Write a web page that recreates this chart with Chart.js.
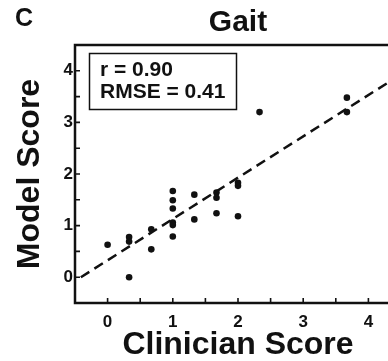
<!DOCTYPE html>
<html>
<head>
<meta charset="utf-8">
<script src="https://cdn.jsdelivr.net/npm/chart.js@4.4.1/dist/chart.umd.min.js"></script>
<style>
	html, body { margin: 0; padding: 0; background: #fff; overflow: hidden; }
	#wrap { position: relative; width: 410px; height: 361px; }
</style>
</head>
<body>
<div id="wrap"><canvas id="chart" width="410" height="361"></canvas></div>
<script>
// --- Data ---
const clinicianScore = [0, 0.33, 0.33, 0.33, 0.67, 0.67, 1, 1, 1, 1, 1, 1, 1.33, 1.33, 1.67, 1.67, 1.67, 2, 2, 2, 2.33, 3.67, 3.67];
const modelScore = [0.63, 0.78, 0.69, 0.0, 0.93, 0.54, 1.67, 1.49, 1.33, 1.06, 1.01, 0.79, 1.6, 1.12, 1.64, 1.54, 1.24, 1.83, 1.77, 1.18, 3.2, 3.48, 3.2];
const fitX = [-0.41, 4.5];
const fitY = [0, 3.93];
const statLines = ["r = 0.90", "RMSE = 0.41"];
const panelLabel = "C";
const AXIS_MIN = -0.5;
const AXIS_MAX = 4.5;

const FONT = "'Liberation Sans', Arial, Helvetica, sans-serif";
const INK = "#111";

// --- Helpers ---
function toPoints(xs, ys) {
	return xs.map((x, i) => ({ x, y: ys[i] }));
}
function intLabel(v) {
	return Number.isInteger(v) ? String(v) : "";
}

// Frame, inward ticks, panel letter and stats box
const decorPlugin = {
	id: "decor",
	afterDraw(chart) {
		const { ctx, chartArea: a, scales } = chart;
		ctx.save();
		ctx.strokeStyle = INK;
		ctx.lineWidth = 2.5;
		ctx.strokeRect(a.left, a.top, a.right - a.left, a.bottom - a.top);

		// inward tick marks
		ctx.lineWidth = 1.6;
		ctx.beginPath();
		scales.x.ticks.forEach((t) => {
			const px = scales.x.getPixelForValue(t.value);
			ctx.moveTo(px, a.bottom);
			ctx.lineTo(px, a.bottom - 5);
		});
		scales.y.ticks.forEach((t) => {
			const py = scales.y.getPixelForValue(t.value);
			ctx.moveTo(a.left, py);
			ctx.lineTo(a.left + 5, py);
		});
		ctx.stroke();

		// panel letter
		ctx.fillStyle = INK;
		ctx.font = "bold 25px " + FONT;
		ctx.textBaseline = "alphabetic";
		ctx.textAlign = "left";
		ctx.fillText(panelLabel, 15, 26);

		// stats box
		ctx.lineWidth = 1.5;
		ctx.strokeRect(89.5, 53.5, 147, 56);
		ctx.font = "bold 21px " + FONT;
		statLines.forEach((s, i) => ctx.fillText(s, 100, 76 + i * 22));
		ctx.restore();
	},
};

const ctx = document.getElementById("chart").getContext("2d");
new Chart(ctx, {
	type: "scatter",
	data: {
		datasets: [
			{
				label: "Gait",
				data: toPoints(clinicianScore, modelScore),
				backgroundColor: INK,
				borderColor: INK,
				pointRadius: 3.3,
				pointBorderWidth: 0,
			},
			{
				type: "line",
				label: "Fit",
				data: toPoints(fitX, fitY),
				borderColor: INK,
				borderWidth: 2.5,
				borderDash: [10, 6],
				pointRadius: 0,
				fill: false,
			},
		],
	},
	options: {
		responsive: false,
		animation: false,
		layout: { padding: { left: 0, right: 9, top: 0, bottom: 0 } },
		scales: {
			x: {
				type: "linear",
				min: AXIS_MIN,
				max: AXIS_MAX,
				grid: { drawOnChartArea: false, drawTicks: false },
				border: { display: false },
				ticks: {
					stepSize: 0.5,
					padding: 9,
					autoSkip: false,
					maxRotation: 0,
					color: INK,
					font: { family: FONT, size: 17, weight: "bold" },
					callback: intLabel,
				},
				title: {
					display: true,
					text: "Clinician Score",
					color: INK,
					font: { family: FONT, size: 32, weight: "bold", lineHeight: 1 },
					padding: { top: 0, bottom: 0 },
				},
				afterFit: (scale) => {
					scale.height = 58;
				},
			},
			y: {
				type: "linear",
				min: AXIS_MIN,
				max: AXIS_MAX,
				grid: { drawOnChartArea: false, drawTicks: false },
				border: { display: false },
				ticks: {
					stepSize: 0.5,
					padding: 2,
					autoSkip: false,
					color: INK,
					font: { family: FONT, size: 17, weight: "bold" },
					callback: intLabel,
				},
				title: {
					display: true,
					text: "Model Score",
					color: INK,
					font: { family: FONT, size: 32, weight: "bold", lineHeight: 1 },
					padding: { top: 14, bottom: 0 },
				},
				afterFit: (scale) => {
					scale.width = 75;
				},
			},
		},
		plugins: {
			legend: { display: false },
			tooltip: { enabled: false },
			title: {
				display: true,
				text: "Gait",
				fullSize: false,
				color: INK,
				font: { family: FONT, size: 30, weight: "bold" },
				padding: { top: 5, bottom: 4 },
			},
		},
	},
	plugins: [decorPlugin],
});
</script>
</body>
</html>
